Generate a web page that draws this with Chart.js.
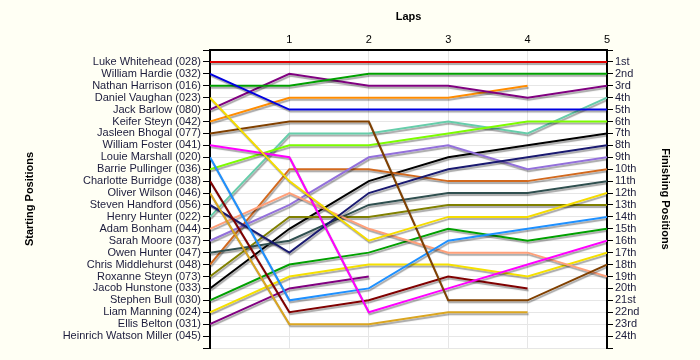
<!DOCTYPE html>
<html lang="en">
<head>
    <meta charset="UTF-8">
    <script src="https://cdn.jsdelivr.net/npm/chart.js"></script>
    <title>Laps chart</title>
    <style>
        body { margin: 0; background: #fffff4; }
    </style>
</head>
<body>
<canvas id="myChart" width="700" height="360"></canvas>
<script>
// lap numbers along the top
var laps = [0, 1, 2, 3, 4, 5];

// drivers in starting order
var drivers = [
    'Luke Whitehead (028)', 'William Hardie (032)', 'Nathan Harrison (016)', 'Daniel Vaughan (023)',
    'Jack Barlow (080)', 'Keifer Steyn (042)', 'Jasleen Bhogal (077)', 'William Foster (041)',
    'Louie Marshall (020)', 'Barrie Pullinger (036)', 'Charlotte Burridge (038)', 'Oliver Wilson (046)',
    'Steven Handford (056)', 'Henry Hunter (022)', 'Adam Bonham (044)', 'Sarah Moore (037)',
    'Owen Hunter (047)', 'Chris Middlehurst (048)', 'Roxanne Steyn (073)', 'Jacob Hunstone (033)',
    'Stephen Bull (030)', 'Liam Manning (024)', 'Ellis Belton (031)', 'Heinrich Watson Miller (045)'
];

// finishing position labels (right axis)
var finishLabels = ['1st', '2nd', '3rd', '4th', '5th', '6th', '7th', '8th', '9th', '10th', '11th', '12th',
    '13th', '14th', '15th', '16th', '17th', '18th', '19th', '20th', '21st', '22nd', '23rd', '24th'];

// position of each driver after each lap (null = retired)
var positions = [
    [1, 1, 1, 1, 1, 1],
    [2, 5, 5, 5, 5, 5],
    [3, 3, 2, 2, 2, 2],
    [4, 11, 16, 14, 14, 12],
    [5, 2, 3, 3, 4, 3],
    [6, 4, 4, 4, 3, null],
    [7, 6, 6, 21, 21, 18],
    [8, 9, 22, 20, 18, 16],
    [9, 21, 20, 16, 15, 14],
    [10, 8, 8, 7, 6, 6],
    [11, 22, 21, 19, 20, null],
    [12, 23, 23, 22, 22, null],
    [13, 17, 12, 10, 9, 8],
    [14, 7, 7, 6, 7, 4],
    [15, 12, 15, 17, 17, 19],
    [16, 13, 9, 8, 10, 9],
    [17, 16, 13, 12, 12, 11],
    [18, 10, 10, 11, 11, 10],
    [19, 14, 14, 13, 13, 13],
    [20, 15, 11, 9, 8, 7],
    [21, 18, 17, 15, 16, 15],
    [22, 19, 18, 18, 19, 17],
    [23, 20, 19, null, null, null],
    [null, null, null, null, null, null]
];

var colours = ['#e00000', '#0000e0', '#00a000', '#f5dc00', '#800080', '#ff8c00', '#804000', '#ff00ff',
    '#1e90ff', '#7cfc00', '#800000', '#daa520', '#191970', '#66cdaa', '#ffa07a', '#9370db',
    '#2f4f4f', '#d2691e', '#808000', '#000000', '#00a000', '#f5e000', '#800080', '#e00000'];

var font = { family: "'Liberation Sans', Arial, sans-serif", size: 11 };
var boldFont = { family: "'Liberation Sans', Arial, sans-serif", size: 11, weight: 'bold' };

var datasets = [];
for (var i = 0; i < drivers.length; i++) {
    var pts = [];
    for (var j = 0; j < laps.length; j++) {
        pts.push({ x: laps[j], y: positions[i][j] });
    }
    datasets.push({
        label: drivers[i],
        data: pts,
        borderColor: colours[i],
        backgroundColor: colours[i],
        borderWidth: 2,
        pointRadius: 0,
        tension: 0,
        spanGaps: false
    });
}

var backdrop = {
    id: 'backdrop',
    beforeDraw: function (chart) {
        var c = chart.ctx, a = chart.chartArea;
        c.save();
        c.fillStyle = '#fffff4';
        c.fillRect(0, 0, chart.width, chart.height);
        c.fillStyle = '#ffffff';
        c.fillRect(a.left, a.top, a.right - a.left, a.bottom - a.top);
        c.restore();
    }
};

var lineShadow = {
    id: 'lineShadow',
    beforeDatasetsDraw: function (chart) {
        var c = chart.ctx;
        c.save();
        c.shadowColor = 'rgba(0,0,0,0.35)';
        c.shadowOffsetX = 1;
        c.shadowOffsetY = 2;
        c.shadowBlur = 1;
    },
    afterDatasetsDraw: function (chart) {
        chart.ctx.restore();
    }
};

var ctx = document.getElementById('myChart').getContext('2d');
var myChart = new Chart(ctx, {
    type: 'line',
    data: { datasets: datasets },
    plugins: [backdrop, lineShadow],
    options: {
        responsive: false,
        animation: false,
        layout: { padding: { bottom: 12 } },
        plugins: {
            legend: { display: false },
            tooltip: { enabled: false }
        },
        scales: {
            x: {
                type: 'linear',
                position: 'top',
                min: 0,
                max: 5,
                afterFit: function (s) { s.height = 50; },
                ticks: {
                    stepSize: 1,
                    padding: 3,
                    color: '#000',
                    font: font,
                    callback: function (v) { return v === 0 ? '' : v; }
                },
                grid: { color: '#e6e6e6', drawTicks: false },
                border: { color: '#000', width: 2 },
                title: { display: true, text: 'Laps', color: '#000', font: boldFont, padding: { top: 10, bottom: 0 } }
            },
            y: {
                type: 'linear',
                position: 'left',
                min: 0,
                max: 25,
                reverse: true,
                afterFit: function (s) { s.width = 210; },
                ticks: {
                    stepSize: 1,
                    autoSkip: false,
                    padding: 2,
                    color: '#1c1c3c',
                    font: font,
                    callback: function (v) { return drivers[v - 1] || ''; }
                },
                grid: { color: '#e6e6e6', tickColor: '#000', tickLength: 7 },
                border: { color: '#000', width: 2 },
                title: { display: true, text: 'Starting Positions', color: '#000', font: boldFont, padding: { top: 23, bottom: 0 } }
            },
            y2: {
                type: 'linear',
                position: 'right',
                min: 0,
                max: 25,
                reverse: true,
                afterFit: function (s) { s.width = 93; },
                ticks: {
                    stepSize: 1,
                    autoSkip: false,
                    padding: 2,
                    color: '#1c1c3c',
                    font: font,
                    callback: function (v) { return finishLabels[v - 1] || ''; }
                },
                grid: { drawOnChartArea: false, tickColor: '#000', tickLength: 6 },
                border: { color: '#000', width: 2 },
                title: { display: true, text: 'Finishing Positions', color: '#000', font: boldFont, padding: { top: 28, bottom: 0 } }
            }
        }
    }
});
</script>
</body>
</html>
